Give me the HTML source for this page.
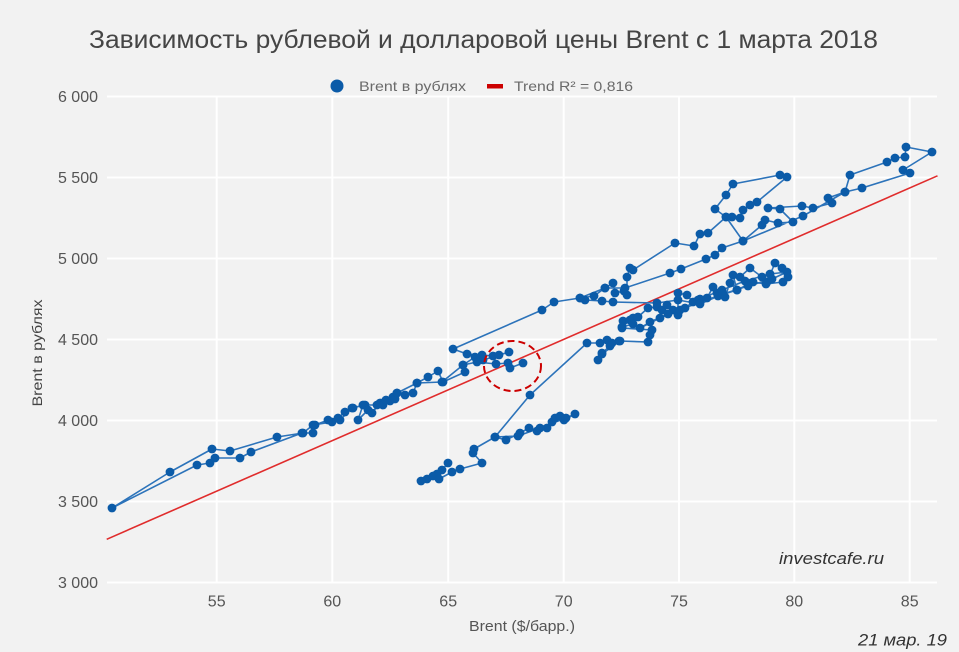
<!DOCTYPE html>
<html><head><meta charset="utf-8"><style>
html,body{margin:0;padding:0;background:#f2f2f2;}
svg{display:block;font-family:"Liberation Sans","Noto Sans CJK SC",sans-serif;}
</style></head><body>
<svg width="959" height="652" viewBox="0 0 959 652" xmlns="http://www.w3.org/2000/svg">
<defs>
<marker id="m" viewBox="-5 -5 10 10" markerWidth="9.4" markerHeight="9.4" refX="0" refY="0" markerUnits="userSpaceOnUse"><circle r="4.7" fill="#0b5ba8"/></marker>
</defs>
<rect x="0" y="0" width="959" height="652" fill="#f2f2f2"/>
<text x="89" y="48" font-size="25" fill="#454545" textLength="789" lengthAdjust="spacingAndGlyphs">Зависимость рублевой и долларовой цены Brent с 1 марта 2018</text>
<circle cx="337" cy="86" r="6.5" fill="#0b5ba8"/>
<text x="359" y="91" font-size="14" fill="#6a6a6a" textLength="107" lengthAdjust="spacingAndGlyphs">Brent в рублях</text>
<rect x="487" y="84" width="16" height="4.5" fill="#cc0000"/>
<text x="514" y="91" font-size="14" fill="#6a6a6a" textLength="119" lengthAdjust="spacingAndGlyphs">Trend R² = 0,816</text>
<g stroke="#ffffff" stroke-width="2">
<line x1="107" y1="96.5" x2="937" y2="96.5"/>
<line x1="107" y1="177.5" x2="937" y2="177.5"/>
<line x1="107" y1="258.5" x2="937" y2="258.5"/>
<line x1="107" y1="339.5" x2="937" y2="339.5"/>
<line x1="107" y1="420.5" x2="937" y2="420.5"/>
<line x1="107" y1="501.5" x2="937" y2="501.5"/>
<line x1="107" y1="582.5" x2="937" y2="582.5"/>
<line x1="216.7" y1="96.5" x2="216.7" y2="582.5"/>
<line x1="332.3" y1="96.5" x2="332.3" y2="582.5"/>
<line x1="448.2" y1="96.5" x2="448.2" y2="582.5"/>
<line x1="563.7" y1="96.5" x2="563.7" y2="582.5"/>
<line x1="679" y1="96.5" x2="679" y2="582.5"/>
<line x1="794.3" y1="96.5" x2="794.3" y2="582.5"/>
<line x1="909.7" y1="96.5" x2="909.7" y2="582.5"/>
</g>
<g font-size="16" fill="#555" text-anchor="end">
<text x="98" y="102">6 000</text>
<text x="98" y="183">5 500</text>
<text x="98" y="264">5 000</text>
<text x="98" y="345">4 500</text>
<text x="98" y="426">4 000</text>
<text x="98" y="507">3 500</text>
<text x="98" y="588">3 000</text>
</g>
<g font-size="16" fill="#555" text-anchor="middle">
<text x="216.7" y="606.5">55</text>
<text x="332.3" y="606.5">60</text>
<text x="448.2" y="606.5">65</text>
<text x="563.7" y="606.5">70</text>
<text x="679" y="606.5">75</text>
<text x="794.3" y="606.5">80</text>
<text x="909.7" y="606.5">85</text>
</g>
<text x="469" y="631" font-size="14.5" fill="#555" textLength="106" lengthAdjust="spacingAndGlyphs">Brent ($/барр.)</text>
<text transform="translate(42,353) rotate(-90)" font-size="14" fill="#444" text-anchor="middle" textLength="107" lengthAdjust="spacingAndGlyphs">Brent в рублях</text>
<line x1="106.7" y1="539.3" x2="937.5" y2="175.8" stroke="#e02c2c" stroke-width="1.6"/>
<polyline fill="none" stroke="#2c73ba" stroke-width="1.6" stroke-linejoin="round" marker-start="url(#m)" marker-mid="url(#m)" marker-end="url(#m)" points="
448,463 442,470 437,474 427,479 421,481 433,476 439,479 452,472 460,469 482,463 473,453 474,449
495,437 506,440 520,433 529,428 537,431 547,428 552,422 555,418 560,416 564,420 575,414 566,418 540,428 518,436 495,437
530,395 587,343
600,343 607,340 612,343 619,341 610,346 602,353 598,360 602,354 620,341 648,342 650,335 652,330 622,328 623,321 630,320 633,318 622,327 633,324 638,317 648,308 657,307 662,310 667,305 673,310 678,315 678,293 687,295 693,302 698,300 707,298 713,287 717,293 725,297 730,283 737,290 733,275 740,277 750,268 762,277 767,282 775,263 782,268 788,277 783,282 766,284 753,282 737,290 718,296 700,302 685,308 668,314 650,322 640,328 660,318 680,310 700,299 722,290 745,281 770,274 787,272 772,279 748,286 723,294 700,304 678,300 657,303
613,302 602,301 585,300 580,298 594,296 605,288 613,283 615,293 624,291 627,295 627,277 630,268 633,270 675,243 694,246 700,234 708,233 726,217 715,209 726,195 733,184 780,175 787,177 757,202 750,205 743,210 740,218 732,217 726,217
743,241 762,225 765,220 778,223 793,222 780,209 768,208 802,206 813,208 832,203 828,198 845,192 850,175 887,162 895,158 905,157 906,147 932,152 903,170 910,173 862,188 845,192 803,216 743,241 722,248 715,255 706,259 681,269 670,273 625,288 605,288 580,298 554,302 542,310 453,349
467,354 482,355 493,356 499,355 509,352 483,360 475,357 463,365 442,382 417,383 397,393 390,401 377,405 365,405 352,408 340,420 332,422 313,425 303,433 277,437 230,451 212,449 170,472 112,508
197,465 210,463 215,458 240,458 251,452 302,433 313,433 315,425 328,420 338,418 345,412 353,408 363,405 358,420 368,410 372,413 380,403 383,405 386,400 393,397 395,399 397,393 405,395 413,393 417,383 428,377 438,371 443,382 465,372 463,365 477,362 496,364 508,363 510,368 523,363"/>
<ellipse cx="512.5" cy="366" rx="28.5" ry="25" fill="none" stroke="#cc0000" stroke-width="2" stroke-dasharray="7,4"/>
<text x="779" y="564" font-size="17" font-style="italic" fill="#333" textLength="105" lengthAdjust="spacingAndGlyphs">investcafe.ru</text>
<text x="858" y="645.5" font-size="17" font-style="italic" fill="#333" textLength="89" lengthAdjust="spacingAndGlyphs">21 мар. 19</text>
</svg>
</body></html>
